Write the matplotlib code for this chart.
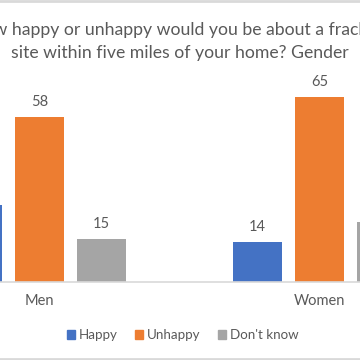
import matplotlib
matplotlib.use("Agg")
import matplotlib.pyplot as plt
import matplotlib.patches as mpatches
import numpy as np

categories = ["Men", "Women"]
series_names = ["Happy", "Unhappy", "Don't know"]
happy = [27, 14]
unhappy = [58, 65]
dont_know = [15, 21]
title_lines = ["How happy or unhappy would you be about a fracking",
               "site within five miles of your home? Gender"]

colors = ["#4472C4", "#ED7D31", "#A5A5A5"]
text_color = "#595959"
font = ["Lato", "DejaVu Sans"]

W = H = 360
fig = plt.figure(figsize=(3.6, 3.6), dpi=100)
fig.patch.set_facecolor("white")

base_px = 282.0
px_per_unit = 2.845
ax = fig.add_axes([0, (H - base_px) / H, 1, base_px / H])
ax.set_xlim(-39.5 / 280, (W - 39.5) / 280)
ax.set_ylim(0, base_px / px_per_unit)
ax.axis("off")

x = np.arange(len(categories))
step = 62 / 280
width = 49 / 280
for i, (vals, c) in enumerate(zip([happy, unhappy, dont_know], colors)):
    xs = x + (i - 1) * step
    ax.bar(xs, vals, width=width, color=c, label=series_names[i], zorder=2)
    for xi, v in zip(xs, vals):
        ax.annotate(str(v), (xi, v), xytext=(0, 15), textcoords="offset pixels",
                    ha="center", va="center", fontsize=10.5, color=text_color,
                    family=font)

ax.axhline(0, color="#D9D9D9", lw=1.2, zorder=3, clip_on=False)

for xi, cat in zip(x, categories):
    ax.annotate(cat, (xi, 0), xytext=(0, -19), textcoords="offset pixels",
                ha="center", va="center", fontsize=10.5, color=text_color,
                family=font, annotation_clip=False)

fig.text(180 / W, 1 - 30 / H, title_lines[0], ha="center", va="center",
         fontsize=12.7, color=text_color, family=font)
fig.text(180 / W, 1 - 53 / H, title_lines[1], ha="center", va="center",
         fontsize=12.7, color=text_color, family=font)

handles = [mpatches.Patch(color=c, label=n) for c, n in zip(colors, series_names)]
fig.legend(handles=handles, loc="center", bbox_to_anchor=(183 / W, 1 - 335 / H),
           ncol=3, frameon=False, handlelength=0.6, handleheight=0.6,
           handletextpad=0.3, columnspacing=1.3,
           prop={"family": font, "size": 9.6}, labelcolor=text_color)

# chart border lines (top and bottom)
fig.add_artist(plt.Line2D([0, 1], [1 - 1.2 / H, 1 - 1.2 / H], color="#D9D9D9",
                          lw=2, transform=fig.transFigure))
fig.add_artist(plt.Line2D([0, 1], [1.2 / H, 1.2 / H], color="#D9D9D9",
                          lw=2, transform=fig.transFigure))

fig.savefig("out.png", dpi=100, facecolor="white")
